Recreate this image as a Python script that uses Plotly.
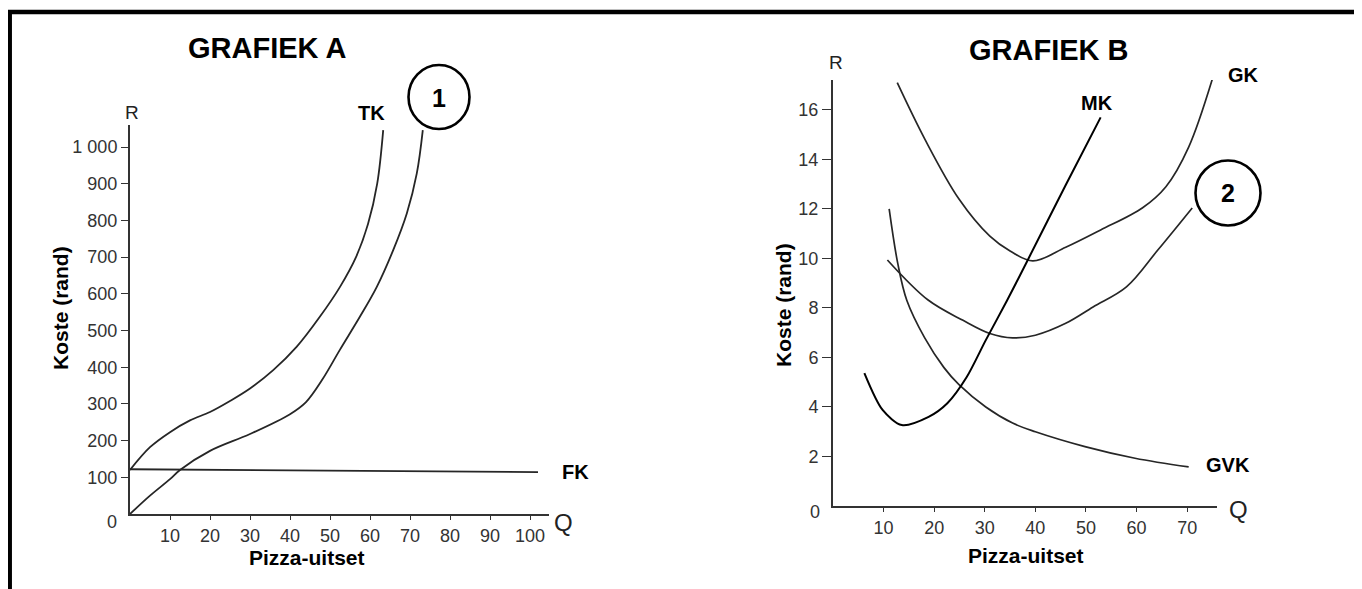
import plotly.graph_objects as go

# ---------------- data: Grafiek A ----------------
tk_q = [0, 5, 10, 15, 20, 25, 30, 35.8, 41.7, 47.5, 52.5, 56.5, 59.5, 61.8, 63.3]
tk_r = [120, 182, 223, 255, 278, 308, 342, 392, 456, 538, 619, 700, 790, 900, 1046]

vk_q = [0, 5, 10, 12.5, 20, 30, 40, 44, 48, 52.5, 57.5, 61.7, 65.8, 69.2, 71.7, 73.2]
vk_r = [0, 50, 95, 120, 172, 218, 272, 305, 365, 448, 538, 619, 719, 819, 928, 1046]

fk_q = [0, 102]
fk_r = [122, 114]

a_xticks = [10, 20, 30, 40, 50, 60, 70, 80, 90, 100]
a_yticks = [100, 200, 300, 400, 500, 600, 700, 800, 900, 1000]
a_ylabels = ["100", "200", "300", "400", "500", "600", "700", "800", "900", "1 000"]

# ---------------- data: Grafiek B ----------------
gk_q = [12.7, 18.2, 24.9, 31, 35, 39.5, 46, 52.9, 61.2, 65.8, 70.3, 75.5]
gk_r = [17.1, 14.8, 12.4, 10.9, 10.3, 9.9, 10.45, 11.15, 12.05, 12.9, 14.5, 17.6]

avk_q = [10.75, 18.8, 25.7, 31, 35.5, 40, 46, 51.4, 58, 64.2, 71]
avk_r = [9.94, 8.32, 7.5, 6.97, 6.79, 6.9, 7.38, 8.04, 8.85, 10.34, 12.04]

gvk_q = [11.1, 12.8, 14.6, 18.1, 21.9, 24.9, 30.2, 35.5, 40, 49.8, 59.7, 70.3]
gvk_r = [12.0, 9.8, 8.3, 6.8, 5.6, 4.9, 4.0, 3.35, 3.0, 2.4, 1.93, 1.58]

mk_q = [6.2, 9.8, 13.6, 18.9, 22.6, 26.4, 30.2, 34.4, 38.5, 46, 52.9]
mk_r = [5.37, 3.88, 3.27, 3.6, 4.15, 5.2, 6.7, 8.3, 9.94, 12.97, 15.7]

b_xticks = [10, 20, 30, 40, 50, 60, 70]
b_yticks = [2, 4, 6, 8, 10, 12, 14, 16]

# ---------------- layout helpers ----------------
W, H = 1362, 589
OFF = 8  # page body margin of the html page


def px(x):
    return (x - OFF) / W


def py(y):
    return (H - (y - OFF)) / H


FONT = "Liberation Sans, Arial, sans-serif"
CURVE = "#262626"
AX = "#333333"

fig = go.Figure()

# Grafiek A curves
for q, r in [(tk_q, tk_r), (vk_q, vk_r)]:
    fig.add_trace(go.Scatter(x=q, y=r, mode="lines",
                             line=dict(color=CURVE, width=1.8, shape="spline", smoothing=1.0),
                             xaxis="x", yaxis="y", hoverinfo="skip"))
fig.add_trace(go.Scatter(x=fk_q, y=fk_r, mode="lines", line=dict(color=CURVE, width=1.8),
                         xaxis="x", yaxis="y", hoverinfo="skip"))

# Grafiek B curves
for q, r in [(gk_q, gk_r), (avk_q, avk_r), (gvk_q, gvk_r)]:
    fig.add_trace(go.Scatter(x=q, y=r, mode="lines",
                             line=dict(color=CURVE, width=1.7, shape="spline"),
                             xaxis="x2", yaxis="y2", hoverinfo="skip"))
fig.add_trace(go.Scatter(x=mk_q, y=mk_r, mode="lines",
                         line=dict(color="#000000", width=2, shape="spline", smoothing=0.8),
                         xaxis="x2", yaxis="y2", hoverinfo="skip"))

tickfont = dict(family=FONT, size=18, color=AX)
axis_common = dict(showgrid=False, zeroline=False, showline=True, linecolor=AX, linewidth=2,
                   ticks="outside", tickcolor=AX, tickwidth=1.2, tickfont=tickfont, fixedrange=True)

fig.update_layout(
    width=W, height=H, margin=dict(l=0, r=0, t=0, b=0),
    paper_bgcolor="white", plot_bgcolor="white", showlegend=False,
    xaxis=dict(domain=[px(130), px(549)], range=[0, 104.75], anchor="y",
               tickvals=a_xticks, ticklen=4, **axis_common),
    yaxis=dict(domain=[py(514), py(125)], range=[0, 1060], anchor="x",
               tickvals=a_yticks, ticktext=a_ylabels, ticklen=7, **axis_common),
    xaxis2=dict(domain=[px(833), px(1217)], range=[0, 75.9], anchor="y2",
                tickvals=b_xticks, ticklen=4, **axis_common),
    yaxis2=dict(domain=[py(506), py(80)], range=[0, 17.21], anchor="x2",
                tickvals=b_yticks, ticklen=9, **axis_common),
)

ann = []


def label(x, y, text, size, bold=True, color="#000", angle=0):
    t = f"<b>{text}</b>" if bold else text
    ann.append(dict(x=px(x), y=py(y), xref="paper", yref="paper", text=t, showarrow=False,
                    font=dict(family=FONT, size=size, color=color), textangle=angle,
                    xanchor="center", yanchor="middle"))


# titles
label(267, 48, "GRAFIEK A", 29)
label(1049, 50, "GRAFIEK B", 29)
# axis titles
label(61, 308, "Koste (rand)", 21, angle=-90)
label(783, 305, "Koste (rand)", 21, angle=-90)
label(307, 557, "Pizza-uitset", 21)
label(1026, 555, "Pizza-uitset", 21)
# R / Q labels
label(132, 112, "R", 19, bold=False, color="#222")
label(836, 63, "R", 19, bold=False, color="#222")
label(563, 522, "Q", 24, bold=False, color="#222")
label(1238, 509, "Q", 24, bold=False, color="#222")
# zero labels
label(112, 522, "0", 18, bold=False, color=AX)
label(815, 512, "0", 18, bold=False, color=AX)
# curve labels
label(371, 113, "TK", 20)
label(575, 472, "FK", 20)
label(1097, 103, "MK", 20)
label(1243, 75, "GK", 20)
label(1228, 465, "GVK", 20)
label(439, 98, "1", 25)
label(1228, 193, "2", 25)

fig.update_layout(annotations=ann)

shapes = [
    # outer frame
    dict(type="rect", xref="paper", yref="paper", x0=px(9.7), x1=px(1358), y0=py(12), y1=py(640),
         line=dict(color="#000", width=4.5)),
    # circled numbers
    dict(type="circle", xref="paper", yref="paper", x0=px(439 - 30.5), x1=px(439 + 30.5),
         y0=py(97 + 32), y1=py(97 - 32), line=dict(color="#000", width=2.6)),
    dict(type="circle", xref="paper", yref="paper", x0=px(1228 - 32.5), x1=px(1228 + 32.5),
         y0=py(193 + 32.5), y1=py(193 - 32.5), line=dict(color="#000", width=2.6)),
]
fig.update_layout(shapes=shapes)

fig.write_html("out.html")
